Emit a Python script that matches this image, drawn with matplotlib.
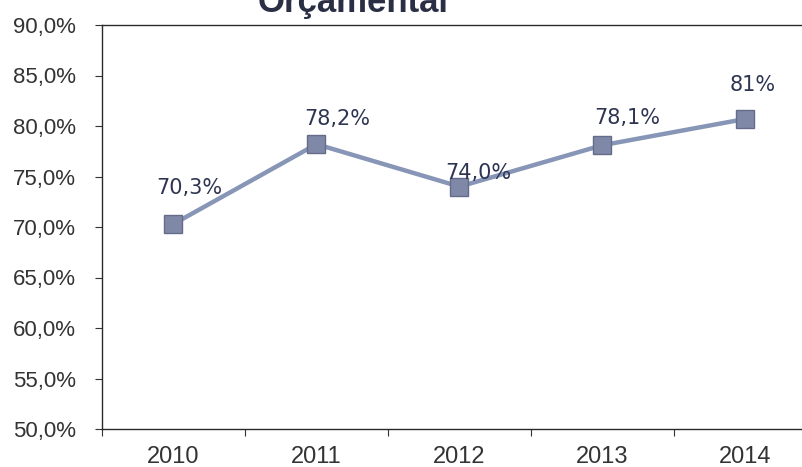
import matplotlib.pyplot as plt
from matplotlib.ticker import FixedLocator
import numpy as np

# execution rate per year (fraction)
years = ['2010', '2011', '2012', '2013', '2014']
rate = [0.703, 0.782, 0.740, 0.781, 0.807]
labels = ['70,3%', '78,2%', '74,0%', '78,1%', '81%']
# label offsets from marker, in pixels (dx, dy)
label_offsets = [(16, 36), (21, 25), (19, 14), (25, 27), (7, 34)]

yticks = np.arange(0.50, 0.901, 0.05)

fig = plt.figure(figsize=(8.03, 4.67), dpi=100)
ax = fig.add_axes([102 / 803, 38 / 467, 715 / 803, 404 / 467])

x = np.arange(len(years))
ax.plot(x, rate, color='#8795b6', lw=3.2, zorder=2)
ax.plot(x, rate, ls='none', marker='s', ms=13.5, mfc='#7f88a6',
        mec='#646c8a', mew=1.0, zorder=3)

for xi, yi, lab, (dx, dy) in zip(x, rate, labels, label_offsets):
    ax.annotate(lab, (xi, yi), xytext=(dx * 0.72, dy * 0.72),
                textcoords='offset points', ha='center', va='center',
                fontsize=15, color='#2e3552', family='DejaVu Sans')

ax.set_xlim(-0.5, 4.5)
ax.set_ylim(0.50, 0.90)
ax.set_yticks(yticks)
ax.set_yticklabels([('%.1f%%' % (v * 100)).replace('.', ',') for v in yticks],
                   fontsize=16, color='#333333', family='Liberation Sans')
ax.set_xticks(x)
ax.set_xticklabels(years, fontsize=17, color='#333333',
                   family='Liberation Sans')
ax.xaxis.set_minor_locator(FixedLocator(np.arange(-0.5, 4.6, 1.0)))
ax.tick_params(axis='x', which='major', length=0, pad=12)
ax.tick_params(axis='x', which='minor', length=5, width=0.8,
               direction='out', color='#333333')
ax.tick_params(axis='y', length=5, width=0.8, direction='out',
               color='#333333', pad=14)

for side in ['left', 'bottom', 'top']:
    ax.spines[side].set_color('#2a2a2a')
    ax.spines[side].set_linewidth(1.0)
ax.spines['right'].set_visible(False)

fig.text(353 / 803, 1 - 12 / 467, 'Orçamental', ha='center', va='baseline',
         fontsize=25, fontweight='bold', color='#2a2f45',
         family='Liberation Sans')

fig.savefig('out.png', dpi=100)
